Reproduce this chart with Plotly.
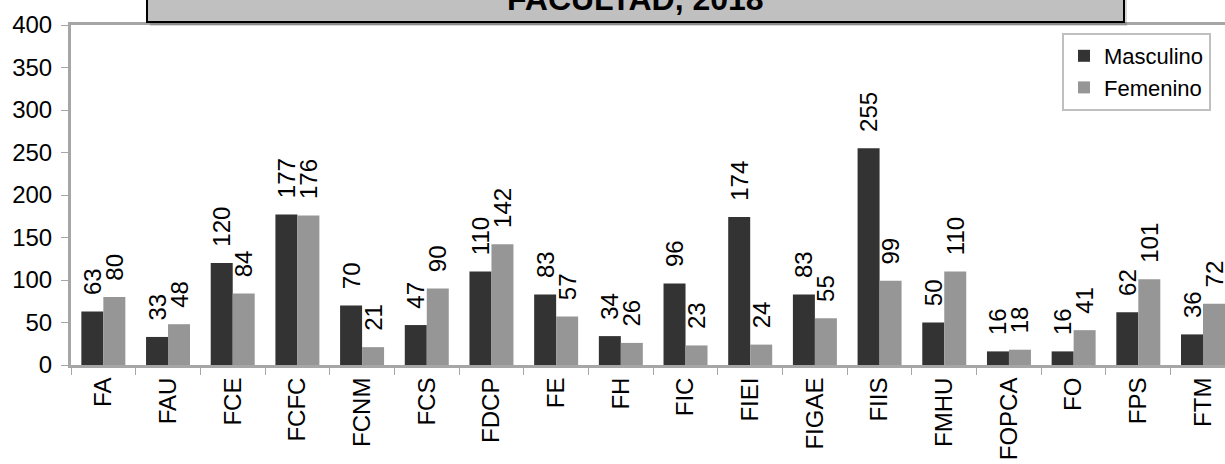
import plotly.graph_objects as go

categorias = ["FA", "FAU", "FCE", "FCFC", "FCNM", "FCS", "FDCP", "FE", "FH", "FIC",
              "FIEI", "FIGAE", "FIIS", "FMHU", "FOPCA", "FO", "FPS", "FTM"]
masculino = [63, 33, 120, 177, 70, 47, 110, 83, 34, 96, 174, 83, 255, 50, 16, 16, 62, 36]
femenino = [80, 48, 84, 176, 21, 90, 142, 57, 26, 23, 24, 55, 99, 110, 18, 41, 101, 72]
titulo = "FACULTAD, 2018"

FONT = "Arial, Liberation Sans, sans-serif"
W, H = 1225, 464
L, R, T, B = 71, 0, 25, 99
PW, PH = W - L - R, H - T - B
PAD = "\u00a0\u00a0"  # gap between bar top and its value label


def px_x(px):
    return (px - L) / PW


def px_y(py):
    return (H - B - py) / PH


fig = go.Figure()
fig.add_trace(go.Bar(
    x=categorias, y=masculino, name="Masculino",
    marker=dict(color="#333333", line=dict(width=0)),
    text=[PAD + str(v) for v in masculino], textposition="outside", textangle=-90,
    constraintext="none", cliponaxis=False,
    textfont=dict(family=FONT, size=24, color="#000000"),
))
fig.add_trace(go.Bar(
    x=categorias, y=femenino, name="Femenino",
    marker=dict(color="#969696", line=dict(width=0)),
    text=[PAD + str(v) for v in femenino], textposition="outside", textangle=-90,
    constraintext="none", cliponaxis=False,
    textfont=dict(family=FONT, size=24, color="#000000"),
))

# title box with shadow
fig.add_shape(type="rect", xref="paper", yref="paper",
              x0=px_x(150), x1=px_x(1127), y0=px_y(26), y1=px_y(-40),
              fillcolor="rgba(0,0,0,0.15)", line=dict(width=0), layer="above")
fig.add_shape(type="rect", xref="paper", yref="paper",
              x0=px_x(147), x1=px_x(1124), y0=px_y(22), y1=px_y(-40),
              fillcolor="#c0c0c0", line=dict(color="#000000", width=2), layer="above")
fig.add_annotation(text="<b>" + titulo + "</b>", xref="paper", yref="paper",
                   x=px_x(635), y=px_y(19), xanchor="center", yanchor="bottom",
                   showarrow=False, font=dict(family=FONT, size=32, color="#000000"))

fig.update_layout(
    width=W, height=H,
    margin=dict(l=L, r=R, t=T, b=B),
    paper_bgcolor="#ffffff", plot_bgcolor="#ffffff",
    barmode="group", bargap=0.32, bargroupgap=0,
    font=dict(family=FONT, size=24, color="#000000"),
    showlegend=True,
    legend=dict(x=px_x(1062), y=px_y(33), xanchor="left", yanchor="top",
                bgcolor="#ffffff", bordercolor="#bfbfbf", borderwidth=2,
                font=dict(family=FONT, size=22, color="#000000"),
                itemwidth=30, tracegroupgap=0),
    xaxis=dict(
        type="category", range=[-0.5, 17.34],
        showline=True, linecolor="#a6a6a6", linewidth=3, mirror=True,
        ticks="outside", tickson="boundaries", ticklen=7, tickcolor="#a6a6a6", tickwidth=1,
        tickangle=-90, tickfont=dict(family=FONT, size=24, color="#000000"),
        showgrid=False, zeroline=False,
    ),
    yaxis=dict(
        range=[0, 400], dtick=50, tick0=0,
        showline=True, linecolor="#a6a6a6", linewidth=3,
        ticks="outside", ticklen=7, tickcolor="#a6a6a6", tickwidth=1,
        ticklabelstandoff=4,
        tickfont=dict(family=FONT, size=24, color="#000000"),
        showgrid=False, zeroline=False,
    ),
)

fig.write_html("out.html", config={"displayModeBar": False},
               post_script="document.body.style.margin='0';")
